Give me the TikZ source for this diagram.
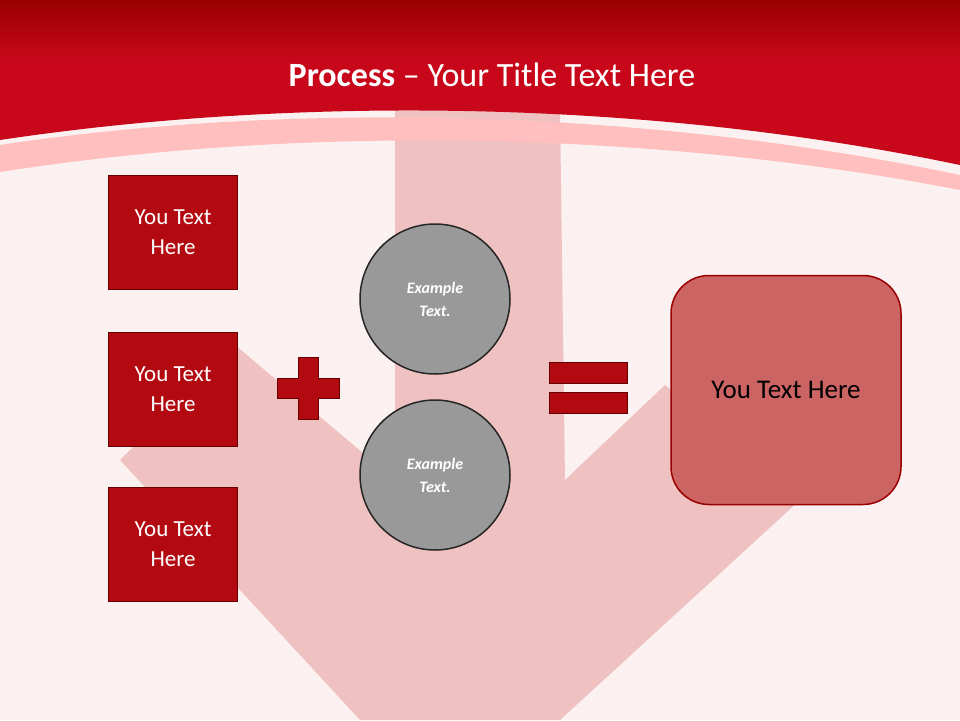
\documentclass[tikz,border=0pt]{standalone}
\usepackage{fontspec}
\setmainfont{Carlito}
\definecolor{boxred}{HTML}{B30A12}
\definecolor{bg}{HTML}{FCF1F1}
\definecolor{hdr}{HTML}{C8081A}
\definecolor{resc}{HTML}{CC6464}
\begin{document}
\begin{tikzpicture}[x=1pt,y=-1pt,
  bx/.style={draw=red!40!black,line width=1.2pt,fill=boxred,text=white,minimum width=129pt,minimum height=114pt,align=center,font=\fontsize{23}{30}\selectfont,anchor=north west},
  circ/.style={circle,draw=gray!30!black,line width=1.5pt,fill=gray!80,minimum size=150pt,text=white,align=center,font=\fontsize{16}{23}\selectfont\bfseries\itshape},
  sym/.style={draw=red!40!black,line width=1pt,fill=boxred}]
\useasboundingbox (0,0) rectangle (960,720);
\fill[bg] (0,0) rectangle (960,720);
% faded arrow
\fill[red!60!gray,opacity=0.25] (395,110)--(560,110)--(565,480)--(665,385)--(800,500)--(560,720)--(360,720)--(120,460)--(235,345)--(395,480)--cycle;
% pale band
\fill[red!25!white] (0,145) .. controls (300,100) and (650,110) .. (960,175) -- (960,190) .. controls (650,130) and (300,125) .. (0,172) -- cycle;
% header
\fill[top color=red!60!black,bottom color=hdr] (0,0) rectangle (960,60);
\fill[hdr] (0,60) -- (960,60) -- (960,165) .. controls (650,100) and (300,95) .. (0,140) -- cycle;
\node[text=white,font=\fontsize{34}{40}\selectfont] (title) at (492,75) {\textbf{Process} -- Your Title Text Here};
% left boxes
\node[bx] (b1) at (108,175) {You Text\\Here};
\node[bx] (b2) at (108,332) {You Text\\Here};
\node[bx] (b3) at (108,487) {You Text\\Here};
% plus
\draw[sym] (298,357)--(318,357)--(318,378)--(339,378)--(339,398)--(318,398)--(318,419)--(298,419)--(298,398)--(277,398)--(277,378)--(298,378)--cycle;
% circles
\node[circ] (c1) at (435,299) {Example\\Text.};
\node[circ] (c2) at (435,475) {Example\\Text.};
% equals
\draw[sym] (549,362) rectangle (627,383);
\draw[sym] (549,392) rectangle (627,413);
% result
\node[draw=red!60!black,line width=1.5pt,fill=resc,rounded corners=38pt,minimum width=230pt,minimum height=229pt,font=\fontsize{27}{32}\selectfont] (r) at (786,390) {You Text Here};
\end{tikzpicture}
\end{document}
